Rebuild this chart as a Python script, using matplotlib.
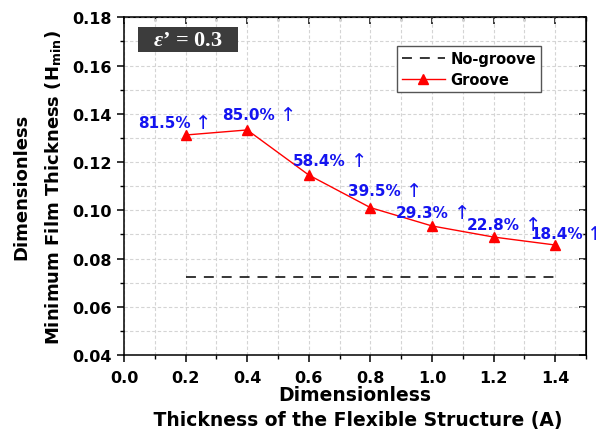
import numpy as np
import matplotlib
matplotlib.use("Agg")
import matplotlib.pyplot as plt
from matplotlib.ticker import MultipleLocator, FormatStrFormatter
from matplotlib.patches import Rectangle

# data
thickness = [0.2, 0.4, 0.6, 0.8, 1.0, 1.2, 1.4]
h_groove = [0.1312, 0.1333, 0.1146, 0.1011, 0.0935, 0.0889, 0.0856]
h_nogroove = [0.0722] * len(thickness)
pct_labels = ["81.5%", "85.0%", "58.4%", "39.5%", "29.3%", "22.8%", "18.4%"]
# where each label sits (data coords, left/center)
label_x = [0.045, 0.320, 0.549, 0.727, 0.883, 1.113, 1.318]
label_y = [0.1362, 0.1399, 0.1208, 0.1080, 0.0989, 0.0943, 0.0902]

plt.rcParams['font.family'] = ['DejaVu Sans']
plt.rcParams['font.weight'] = 'bold'
plt.rcParams['axes.labelweight'] = 'bold'
plt.rcParams['mathtext.fontset'] = 'custom'
plt.rcParams['mathtext.rm'] = 'DejaVu Sans:bold'
plt.rcParams['mathtext.it'] = 'Liberation Serif:italic:bold'

fig = plt.figure(figsize=(5.96, 4.39), dpi=100)
ax = fig.add_axes([124/596, 83/439, 462/596, 337.7/439])

ax.plot(thickness, h_nogroove, color='black', lw=1.1, linestyle=(0, (6.5, 5.2)),
        label='No-groove')
ax.plot(thickness, h_groove, color='red', lw=1.0, marker='^', markersize=7,
        label='Groove')

blue = '#1414f0'
for x, y, s in zip(label_x, label_y, pct_labels):
    t = ax.text(x, y, s, color=blue, fontsize=11, fontweight='bold',
                va='center', ha='left', clip_on=False)
    ax.annotate("\u2191", xy=(1, 0.5), xycoords=t, xytext=(3.5, 0),
                textcoords='offset points', ha='left', va='center',
                color=blue, fontsize=14, fontweight='normal',
                annotation_clip=False)

ax.set_xlim(0.0, 1.5)
ax.set_ylim(0.04, 0.18)
ax.xaxis.set_minor_locator(MultipleLocator(0.1))
ax.yaxis.set_major_locator(MultipleLocator(0.02))
ax.yaxis.set_minor_locator(MultipleLocator(0.01))
ax.set_xticks(np.arange(0, 1.41, 0.2))
ax.set_xticklabels(["%.1f" % v for v in np.arange(0, 1.41, 0.2)])
ax.yaxis.set_major_formatter(FormatStrFormatter('%.2f'))

ax.grid(which='both', color='#d4d4d4', linestyle=(0, (3, 2)), lw=0.8)
ax.set_axisbelow(True)

ax.tick_params(which='major', direction='out', length=5, width=1.1, labelsize=11.5)
ax.tick_params(axis='x', which='major', pad=5.5)
ax.tick_params(axis='y', which='major', pad=3.5)
ax.tick_params(which='minor', direction='out', length=3, width=1.0)
for sp in ax.spines.values():
    sp.set_linewidth(1.1)

# mirrored ticks pointing inward on top and right
top = ax.secondary_xaxis('top')
top.xaxis.set_major_locator(MultipleLocator(0.2))
top.xaxis.set_minor_locator(MultipleLocator(0.1))
top.tick_params(which='major', direction='in', length=5, width=1.1, labeltop=False)
top.tick_params(which='minor', direction='in', length=3, width=1.0)
right = ax.secondary_yaxis('right')
right.yaxis.set_major_locator(MultipleLocator(0.02))
right.yaxis.set_minor_locator(MultipleLocator(0.01))
right.tick_params(which='major', direction='in', length=5, width=1.1, labelright=False)
right.tick_params(which='minor', direction='in', length=3, width=1.0)

ax.set_xlabel("Dimensionless\n Thickness of the Flexible Structure (A)",
              fontsize=13.5, linespacing=1.42, labelpad=0)
ax.set_ylabel("Dimensionless\nMinimum Film Thickness (H$_{\\mathrm{min}}$)",
              fontsize=13, linespacing=1.8, labelpad=6.5)

leg = ax.legend(loc='upper right', bbox_to_anchor=(0.903, 0.916), borderaxespad=0,
                prop={'size': 10.5, 'weight': 'bold'}, fancybox=False,
                edgecolor='#555555', framealpha=1,
                handlelength=2.9, handletextpad=0.4, borderpad=0.35,
                labelspacing=0.45)
leg.get_frame().set_linewidth(1.0)

# epsilon' box
ax.add_patch(Rectangle((0.03, 0.898), 0.217, 0.074, transform=ax.transAxes,
                       facecolor='#3c3c3c', edgecolor='none', zorder=5))
ax.text(0.138, 0.933, "$\u03b5$\u2019 = 0.3", transform=ax.transAxes,
        ha='center', va='center', color='white', fontsize=16,
        family='Liberation Serif', fontweight='bold', zorder=6)

fig.savefig("out.png", dpi=100)
